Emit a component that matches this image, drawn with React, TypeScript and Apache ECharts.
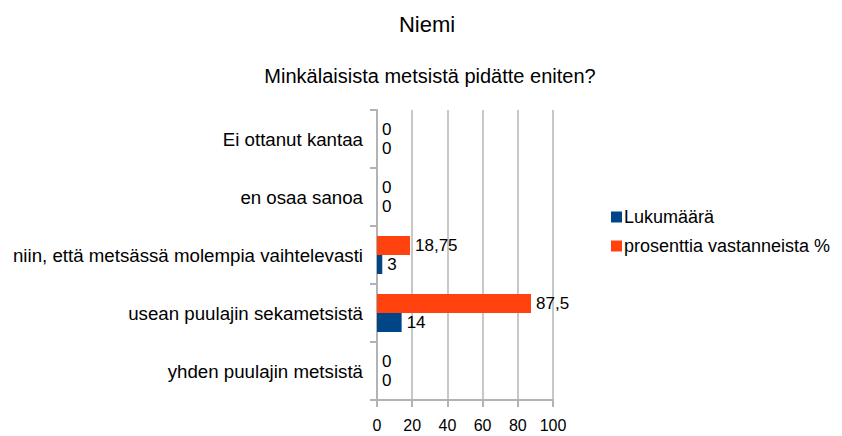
import React, { useEffect, useRef } from "react";
import * as echarts from "echarts";

const categories = [
  "yhden puulajin metsistä",
  "usean puulajin sekametsistä",
  "niin, että metsässä molempia vaihtelevasti",
  "en osaa sanoa",
  "Ei ottanut kantaa",
];
const lukumaara = [0, 14, 3, 0, 0];
const prosentti = [0, 87.5, 18.75, 0, 0];
const xTicks = [0, 20, 40, 60, 80, 100];

const FONT = "Liberation Sans, Arial, sans-serif";

export default function App() {
  const ref = useRef<HTMLDivElement>(null);
  useEffect(() => {
    document.body.style.margin = "0";
    const chart = echarts.init(ref.current!, null, { renderer: "svg" });
    const fmt = (p: any) => String(p.value).replace(".", ",");
    const labelStyle = {
      show: true,
      position: "right",
      distance: 5,
      color: "#000",
      fontSize: 17,
      fontFamily: FONT,
      formatter: fmt,
    };
    chart.setOption({
      animation: false,
      backgroundColor: "#ffffff",
      textStyle: { fontFamily: FONT },
      title: [
        {
          text: "Niemi",
          left: 422,
          top: 8,
          textAlign: "center",
          textStyle: { fontSize: 22, fontWeight: "normal", color: "#000", fontFamily: FONT },
        },
        {
          text: "Minkälaisista metsistä pidätte eniten?",
          left: 425,
          top: 61,
          textAlign: "center",
          textStyle: { fontSize: 20, fontWeight: "normal", color: "#000", fontFamily: FONT },
        },
      ],
      legend: {
        orient: "vertical",
        left: 606,
        top: 203,
        itemWidth: 11,
        itemHeight: 11,
        itemGap: 11,
        icon: "rect",
        textStyle: { fontSize: 18, color: "#000", fontFamily: FONT, padding: [0, 0, 0, -3] },
        data: ["Lukumäärä", "prosenttia vastanneista %"],
      },
      grid: { left: 377, right: 289, top: 110, bottom: 36, containLabel: false },
      xAxis: {
        type: "value",
        min: 0,
        max: 100,
        interval: 20,
        axisLine: { show: true, lineStyle: { color: "#b3b3b3", width: 2 } },
        axisTick: { show: true, length: 7, lineStyle: { color: "#b3b3b3", width: 2 } },
        splitLine: { show: true, lineStyle: { color: "#c8c8c8", width: 2 } },
        axisLabel: {
          fontSize: 16,
          color: "#000",
          margin: 17,
          fontFamily: FONT,
          formatter: (v: number) => (xTicks.includes(v) ? String(v) : ""),
        },
      },
      yAxis: {
        type: "category",
        data: categories,
        axisLine: { show: true, lineStyle: { color: "#b3b3b3", width: 2 } },
        axisTick: { show: true, length: 7, lineStyle: { color: "#b3b3b3", width: 2 } },
        axisLabel: { fontSize: 18.7, color: "#000", margin: 14, fontFamily: FONT },
        splitLine: { show: false },
      },
      series: [
        {
          name: "prosenttia vastanneista %",
          type: "bar",
          data: prosentti,
          barWidth: 19,
          barGap: "0%",
          itemStyle: { color: "#ff420e" },
          label: labelStyle,
        },
        {
          name: "Lukumäärä",
          type: "bar",
          data: lukumaara,
          barWidth: 19,
          barGap: "0%",
          itemStyle: { color: "#004586" },
          label: labelStyle,
        },
      ],
    });
    return () => chart.dispose();
  }, []);
  return <div ref={ref} style={{ width: 842, height: 436 }} />;
}
